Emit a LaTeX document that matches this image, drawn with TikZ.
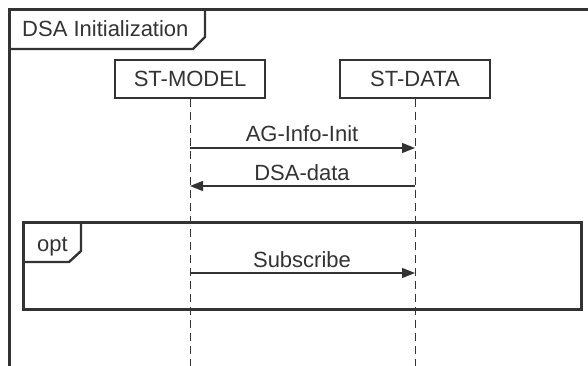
\documentclass[tikz,border=0pt]{standalone}
\usepackage{fontspec}
\setmainfont{Liberation Sans}
\usetikzlibrary{arrows.meta}
\definecolor{ink}{HTML}{333333}
\tikzset{
  lifebox/.style={draw=ink, line width=1.4pt, minimum width=150pt, minimum height=38pt, inner sep=0pt, text=ink, font=\fontsize{22}{25}\selectfont},
  lifeline/.style={draw=ink, line width=1pt, dash pattern=on 8pt off 5pt},
  msg/.style={draw=ink, line width=1.4pt, -{Triangle[length=13pt,width=10pt]}},
  msglabel/.style={anchor=base, text=ink, inner sep=0pt, font=\fontsize{22}{25}\selectfont},
  framebox/.style={draw=ink, line width=3pt},
  tabline/.style={draw=ink, line width=2.4pt},
}
\begin{document}
\begin{tikzpicture}[x=1pt,y=-1pt]
\useasboundingbox (0,0) rectangle (588,366);
\fill[white] (0,0) rectangle (588,366);
% outer frame
\draw[framebox] (9,380) -- (9,10) -- (600,10);
\draw[tabline] (9,49) -- (193,49) -- (205,37) -- (205,10);
\node[msglabel, anchor=base west] (title) at (22,37) {DSA Initialization};
% lifelines
\node[lifebox] (model) at (190,79) {ST-MODEL};
\node[lifebox] (data) at (415,79) {ST-DATA};
\coordinate (modelend) at (190,372);
\coordinate (dataend) at (415,372);
\draw[lifeline] (model.south) -- (modelend);
\draw[lifeline] (data.south) -- (dataend);
% messages
\coordinate (m1a) at (190,148); \coordinate (m1b) at (415,148);
\coordinate (m2a) at (415,186); \coordinate (m2b) at (190,186);
\coordinate (m3a) at (190,273); \coordinate (m3b) at (415,273);
\draw[msg] (m1a) -- (m1b);
\node[msglabel] (l1) at (302,142) {AG-Info-Init};
\draw[msg] (m2a) -- (m2b);
\node[msglabel] (l2) at (302,180) {DSA-data};
% opt fragment
\draw[framebox] (23,222) rectangle (581,309);
\draw[tabline] (23,262) -- (69,262) -- (81,251) -- (81,222);
\node[msglabel, anchor=base west] (opt) at (37,251) {opt};
\draw[msg] (m3a) -- (m3b);
\node[msglabel] (l3) at (302,267) {Subscribe};
\end{tikzpicture}
\end{document}
